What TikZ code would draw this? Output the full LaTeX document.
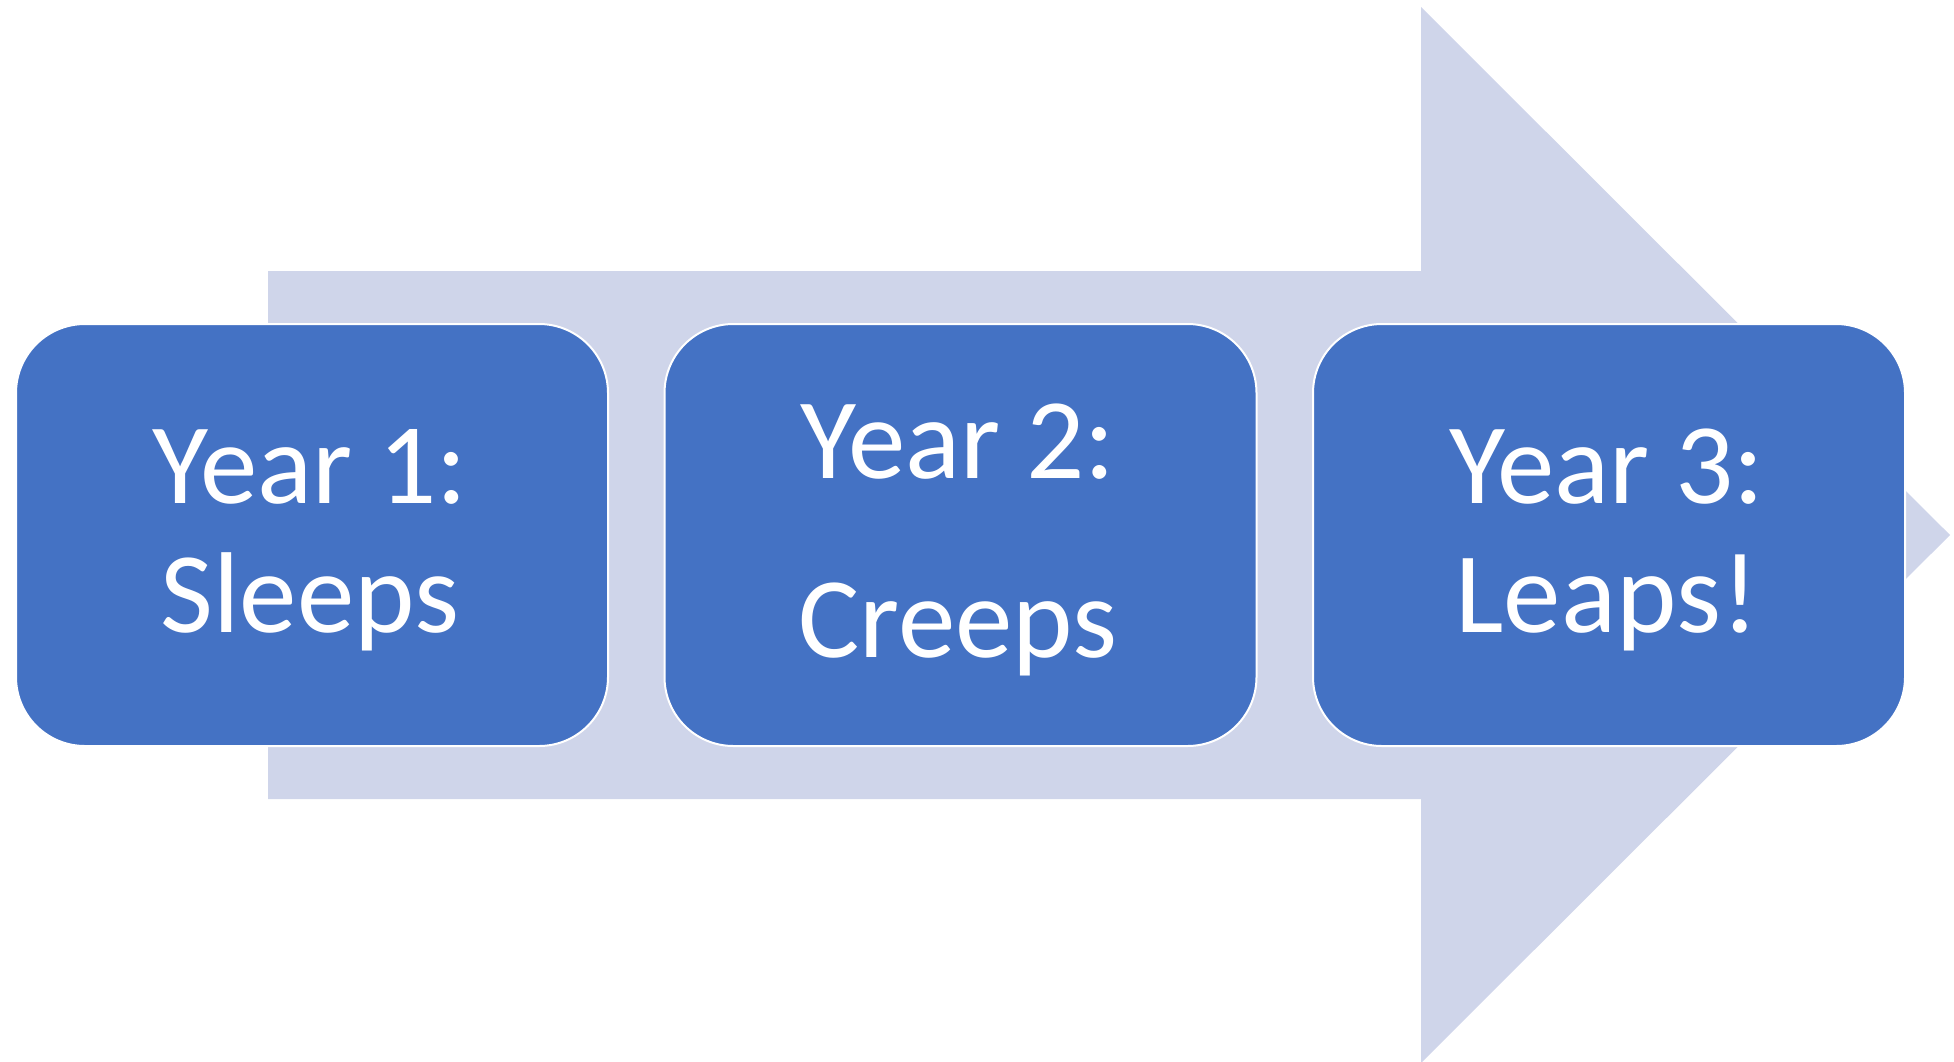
\documentclass[tikz,border=0pt]{standalone}
\usepackage{fontspec}
\setmainfont{Carlito}
\definecolor{arrowfill}{HTML}{CFD5EA}
\definecolor{boxfill}{HTML}{4472C4}
\begin{document}
\begin{tikzpicture}[x=1pt,y=-1pt,
  stepbox/.style={draw=white,line width=2pt,fill=boxfill,rounded corners=69pt,
    minimum width=592pt,minimum height=422pt,inner sep=0pt,outer sep=0pt},
  lbl/.style={text=white,font=\fontsize{115}{129}\selectfont,anchor=base,inner sep=0pt}]
\useasboundingbox (0,0) rectangle (1954,1061);
\clip (0,0) rectangle (1954,1061);
\fill[arrowfill] (268,271) -- (1421,271) -- (1421,7) -- (1950,535) -- (1421,1063) -- (1421,799) -- (268,799) -- cycle;
\node[stepbox] (b1) at (312,535) {};
\node[stepbox] (b2) at (960.5,535) {};
\node[stepbox] (b3) at (1609,535) {};
\node[lbl] (t1a) at (310,503) {Year 1:};
\node[lbl] (t1b) at (310,632) {Sleeps};
\node[lbl] (t2a) at (958,478) {Year 2:};
\node[lbl] (t2b) at (958,657) {Creeps};
\node[lbl] (t3a) at (1607,503) {Year 3:};
\node[lbl] (t3b) at (1607,632) {Leaps!};
\end{tikzpicture}
\end{document}
